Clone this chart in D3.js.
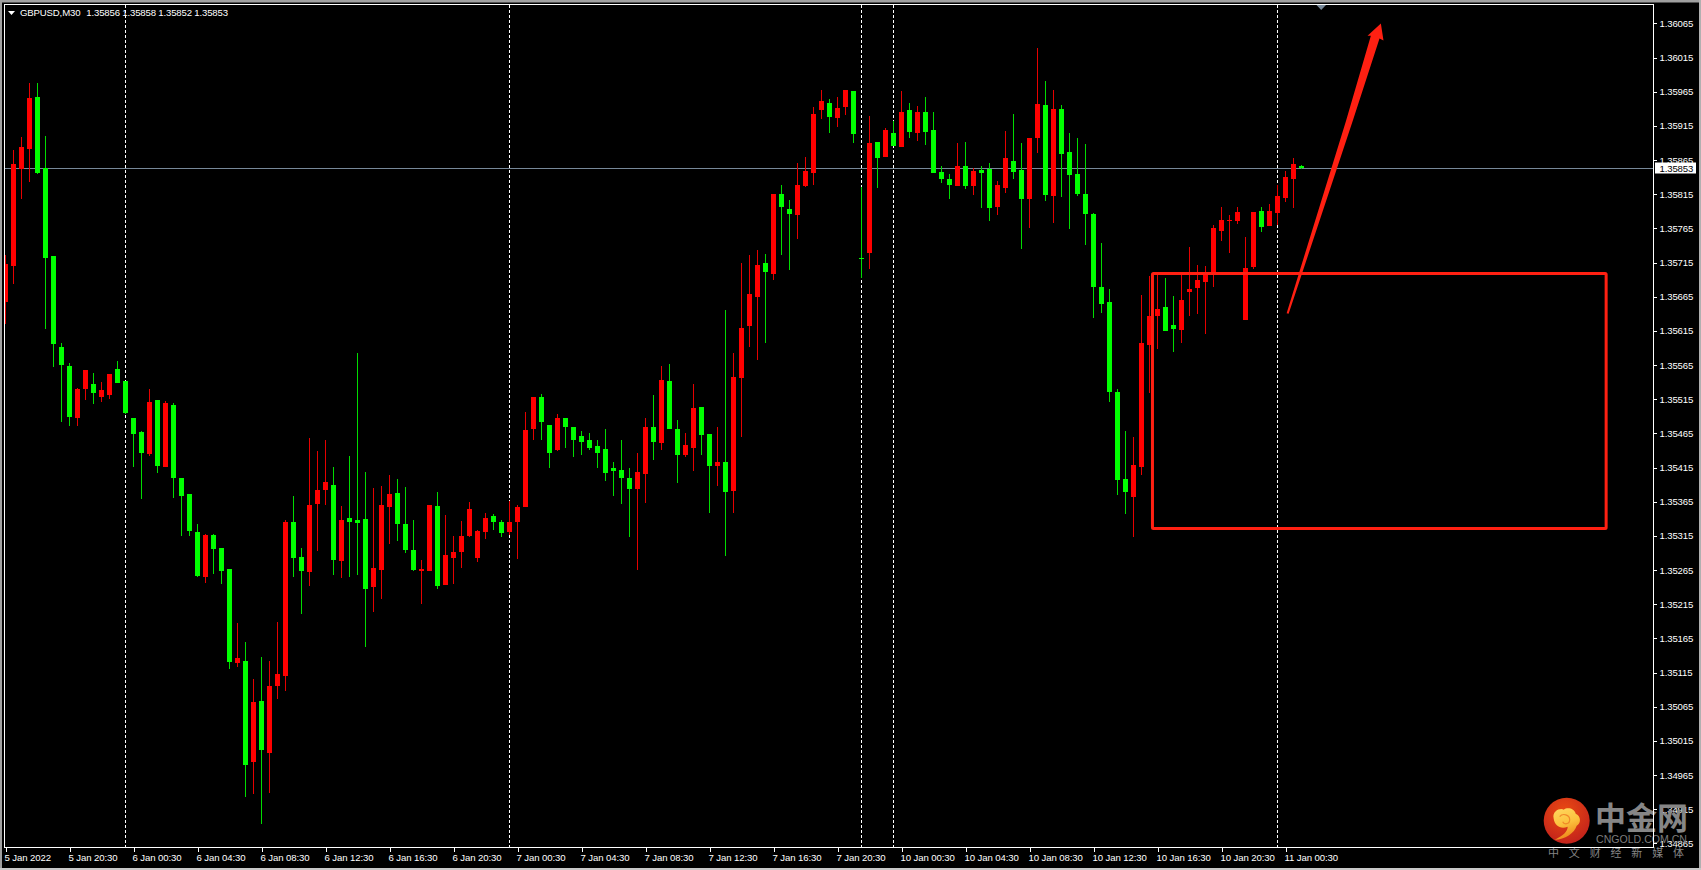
<!DOCTYPE html>
<html>
<head>
<meta charset="utf-8">
<script src="https://cdn.jsdelivr.net/npm/d3@7/dist/d3.min.js"></script>
<style>
html,body{margin:0;padding:0;background:#000;overflow:hidden}
svg{display:block}
text{font-family:"Liberation Sans",Arial,sans-serif}
</style>
</head>
<body>
<script>
const highs=[1.35726,1.35880,1.35899,1.35978,1.35978,1.35900,1.35724,1.35597,1.35568,1.35531,
1.35558,1.35553,1.35540,1.35552,1.35571,1.35541,1.35488,1.35469,1.35530,1.35514,
1.35513,1.35510,1.35400,1.35376,1.35333,1.35318,1.35318,1.35297,1.35267,1.35188,
1.35160,1.35106,1.35138,1.35132,1.35189,1.35338,1.35374,1.35297,1.35458,1.35439,
1.35455,1.35416,1.35359,1.35432,1.35583,1.35409,1.35385,1.35388,1.35404,1.35398,
1.35387,1.35338,1.35280,1.35360,1.35379,1.35346,1.35315,1.35337,1.35365,1.35324,
1.35348,1.35347,1.35338,1.35366,1.35360,1.35497,1.35519,1.35522,1.35478,1.35493,
1.35487,1.35474,1.35468,1.35465,1.35456,1.35471,1.35423,1.35456,1.35415,1.35437,
1.35487,1.35521,1.35563,1.35566,1.35484,1.35465,1.35537,1.35503,1.35464,1.35475,
1.35645,1.35582,1.35714,1.35726,1.35733,1.35727,1.35815,1.35828,1.35806,1.35860,
1.35869,1.35942,1.35967,1.35955,1.35957,1.35967,1.35966,1.35825,1.35929,1.35891,
1.35912,1.35922,1.35966,1.35948,1.35944,1.35958,1.35936,1.35856,1.35844,1.35890,
1.35891,1.35853,1.35857,1.35860,1.35834,1.35907,1.35932,1.35890,1.35897,1.36029,
1.35980,1.35967,1.35945,1.35904,1.35898,1.35888,1.35787,1.35743,1.35676,1.35530,
1.35468,1.35459,1.35667,1.35695,1.35697,1.35692,1.35666,1.35697,1.35738,1.35711,
1.35710,1.35770,1.35796,1.35784,1.35796,1.35752,1.35789,1.35796,1.35800,1.35828,
1.35849,1.35868,1.35858];
const lows=[1.35625,1.35683,1.35808,1.35833,1.35844,1.35618,1.35562,1.35481,1.35476,1.35476,
1.35514,1.35508,1.35511,1.35515,1.35539,1.35493,1.35416,1.35369,1.35432,1.35407,
1.35416,1.35371,1.35315,1.35315,1.35255,1.35246,1.35259,1.35245,1.35120,1.35123,
1.34933,1.34938,1.34894,1.34939,1.35076,1.35088,1.35255,1.35201,1.35242,1.35293,
1.35360,1.35258,1.35254,1.35255,1.35258,1.35153,1.35204,1.35223,1.35303,1.35308,
1.35290,1.35264,1.35215,1.35264,1.35237,1.35243,1.35245,1.35268,1.35313,1.35277,
1.35311,1.35323,1.35313,1.35316,1.35281,1.35358,1.35455,1.35456,1.35415,1.35439,
1.35443,1.35430,1.35434,1.35440,1.35414,1.35396,1.35374,1.35361,1.35313,1.35265,
1.35363,1.35426,1.35440,1.35471,1.35392,1.35431,1.35410,1.35434,1.35348,1.35388,
1.35285,1.35348,1.35459,1.35592,1.35573,1.35597,1.35690,1.35726,1.35704,1.35749,
1.35825,1.35828,1.35925,1.35904,1.35913,1.35931,1.35890,1.35692,1.35705,1.35824,
1.35869,1.35885,1.35884,1.35897,1.35893,1.35887,1.35846,1.35831,1.35808,1.35827,
1.35822,1.35814,1.35795,1.35776,1.35784,1.35817,1.35838,1.35735,1.35765,1.35875,
1.35805,1.35773,1.35811,1.35764,1.35812,1.35740,1.35634,1.35641,1.35511,1.35375,
1.35347,1.35313,1.35404,1.35524,1.35588,1.35615,1.35584,1.35597,1.35637,1.35639,
1.35610,1.35679,1.35746,1.35729,1.35771,1.35631,1.35705,1.35759,1.35768,1.35770,
1.35803,1.35795,1.35852];
const opens=[1.35657,1.35710,1.35852,1.35881,1.35957,1.35853,1.35724,1.35591,1.35563,1.35487,
1.35530,1.35537,1.35518,1.35521,1.35559,1.35541,1.35488,1.35467,1.35435,1.35514,
1.35416,1.35507,1.35400,1.35376,1.35321,1.35255,1.35316,1.35297,1.35267,1.35129,
1.35132,1.34984,1.35074,1.34997,1.35095,1.35110,1.35335,1.35284,1.35262,1.35362,
1.35382,1.35390,1.35278,1.35341,1.35338,1.35340,1.35240,1.35265,1.35357,1.35378,
1.35333,1.35295,1.35264,1.35264,1.35359,1.35243,1.35283,1.35292,1.35315,1.35283,
1.35320,1.35344,1.35336,1.35320,1.35336,1.35358,1.35471,1.35518,1.35478,1.35440,
1.35487,1.35474,1.35461,1.35455,1.35446,1.35442,1.35414,1.35411,1.35399,1.35383,
1.35405,1.35474,1.35451,1.35541,1.35471,1.35434,1.35443,1.35503,1.35464,1.35418,
1.35423,1.35380,1.35546,1.35622,1.35664,1.35714,1.35698,1.35815,1.35794,1.35784,
1.35827,1.35846,1.35938,1.35948,1.35926,1.35942,1.35966,1.35721,1.35729,1.35891,
1.35869,1.35904,1.35884,1.35938,1.35904,1.35936,1.35909,1.35847,1.35838,1.35827,
1.35857,1.35827,1.35850,1.35852,1.35796,1.35824,1.35863,1.35850,1.35808,1.35897,
1.35945,1.35812,1.35939,1.35877,1.35844,1.35815,1.35786,1.35679,1.35657,1.35525,
1.35398,1.35372,1.35416,1.35595,1.35637,1.35650,1.35623,1.35616,1.35672,1.35678,
1.35686,1.35697,1.35761,1.35776,1.35776,1.35631,1.35708,1.35790,1.35768,1.35787,
1.35809,1.35837,1.35856];
const closes=[1.35713,1.35859,1.35884,1.35956,1.35846,1.35721,1.35596,1.35565,1.35489,1.35530,
1.35558,1.35524,1.35528,1.35552,1.35539,1.35495,1.35464,1.35436,1.35511,1.35417,
1.35510,1.35400,1.35374,1.35322,1.35256,1.35316,1.35296,1.35264,1.35131,1.35136,
1.34980,1.35072,1.35002,1.35095,1.35113,1.35335,1.35283,1.35264,1.35360,1.35382,
1.35394,1.35280,1.35338,1.35335,1.35334,1.35237,1.35268,1.35360,1.35376,1.35333,
1.35295,1.35265,1.35267,1.35360,1.35242,1.35287,1.35292,1.35315,1.35354,1.35322,
1.35341,1.35336,1.35319,1.35336,1.35358,1.35470,1.35518,1.35481,1.35437,1.35487,
1.35475,1.35455,1.35453,1.35443,1.35436,1.35407,1.35410,1.35399,1.35383,1.35408,
1.35475,1.35453,1.35543,1.35471,1.35434,1.35448,1.35502,1.35462,1.35418,1.35423,
1.35379,1.35547,1.35619,1.35669,1.35712,1.35701,1.35815,1.35797,1.35786,1.35828,
1.35849,1.35932,1.35951,1.35928,1.35941,1.35967,1.35903,1.35720,1.35890,1.35868,
1.35909,1.35885,1.35936,1.35906,1.35936,1.35906,1.35846,1.35837,1.35828,1.35857,
1.35827,1.35849,1.35846,1.35795,1.35828,1.35868,1.35847,1.35808,1.35897,1.35947,
1.35814,1.35939,1.35874,1.35843,1.35815,1.35786,1.35679,1.35654,1.35525,1.35397,
1.35379,1.35419,1.35598,1.35637,1.35647,1.35615,1.35618,1.35660,1.35676,1.35689,
1.35699,1.35765,1.35777,1.35777,1.35789,1.35707,1.35789,1.35767,1.35790,1.35812,
1.35840,1.35859,1.35853];

const priceTicks=[1.36065,1.36015,1.35965,1.35915,1.35865,1.35815,1.35765,1.35715,1.35665,1.35615,1.35565,1.35515,1.35465,1.35415,1.35365,1.35315,1.35265,1.35215,1.35165,1.35115,1.35065,1.35015,1.34965,1.34915,1.34865];
const timeBars=[0,8,16,24,32,40,48,56,64,72,80,88,96,104,112,120,128,136,144,152,160];
const timeLabels=["5 Jan 2022","5 Jan 20:30","6 Jan 00:30","6 Jan 04:30","6 Jan 08:30","6 Jan 12:30","6 Jan 16:30","6 Jan 20:30","7 Jan 00:30","7 Jan 04:30","7 Jan 08:30","7 Jan 12:30","7 Jan 16:30","7 Jan 20:30","10 Jan 00:30","10 Jan 04:30","10 Jan 08:30","10 Jan 12:30","10 Jan 16:30","10 Jan 20:30","11 Jan 00:30"];
const separatorBars=[15,63,107,111,159];
const lastPrice=1.35853;
const headerName="GBPUSD,M30";
const headerValues=[1.35856,1.35858,1.35852,1.35853];
const boxBars=[143.37,200.08];
const boxPrices=[1.35699,1.35326];
const arrowBars=[160.14,167.58,170.67,170.25,171.92,172.25,171.75,168.42,160.39];
const arrowPrices=[1.35641,1.35923,1.36047,1.36047,1.36065,1.36040,1.36043,1.35923,1.35640];

const W=1701,H=870,L=5,R=1653,T=5,B=847;
const svg=d3.select("body").append("svg").attr("width",W).attr("height",H).attr("viewBox",`0 0 ${W} ${H}`);
svg.append("rect").attr("width",W).attr("height",H).attr("fill","#000");

const x=d3.scaleLinear().domain([0,162]).range([5.5,1301.5]);
const y=d3.scaleLinear().domain([1.34865,1.36065]).range([843.4,23.4]);

const defs=svg.append("defs");
defs.append("clipPath").attr("id","plot").append("rect").attr("x",L).attr("y",T).attr("width",R-L).attr("height",B-T);
const rg=defs.append("radialGradient").attr("id","logoRed").attr("cx","45%").attr("cy","30%").attr("r","75%");
rg.append("stop").attr("offset","0%").attr("stop-color","#ea4a12");
rg.append("stop").attr("offset","100%").attr("stop-color","#c0201c");
const yg=defs.append("linearGradient").attr("id","logoYellow").attr("x1","0").attr("y1","0").attr("x2","0.3").attr("y2","1");
yg.append("stop").attr("offset","0%").attr("stop-color","#ffd860");
yg.append("stop").attr("offset","55%").attr("stop-color","#fcc23e");
yg.append("stop").attr("offset","100%").attr("stop-color","#ee8a1c");

// window chrome
svg.append("rect").attr("width",W).attr("height",2.5).attr("fill","#a0a0a0");
svg.append("rect").attr("width",2).attr("height",H).attr("fill","#a0a0a0");
svg.append("rect").attr("x",1699).attr("width",2).attr("height",H).attr("fill","#b0b0b0");
svg.append("rect").attr("y",868).attr("width",W).attr("height",2).attr("fill","#c8c8c8");

const plot=svg.append("g").attr("clip-path","url(#plot)").attr("shape-rendering","crispEdges");

// period separators
plot.selectAll("line.sep").data(separatorBars).join("line").attr("class","sep")
  .attr("x1",d=>x(d)).attr("x2",d=>x(d)).attr("y1",T).attr("y2",B)
  .attr("stroke","#fff").attr("stroke-dasharray","3,2");

// bid line
plot.append("line").attr("x1",L).attr("x2",R).attr("y1",Math.floor(y(lastPrice))+0.5).attr("y2",Math.floor(y(lastPrice))+0.5)
  .attr("stroke","#778899");

// candles
const idx=d3.range(closes.length);
const up=i=>closes[i]>=opens[i];
plot.selectAll("line.wick").data(idx).join("line").attr("class","wick")
  .attr("x1",i=>x(i)).attr("x2",i=>x(i))
  .attr("y1",i=>Math.round(y(highs[i]))).attr("y2",i=>Math.round(y(lows[i])))
  .attr("stroke",i=>up(i)?"#e60000":"#00dc00");
plot.selectAll("rect.body").data(idx).join("rect").attr("class","body")
  .attr("x",i=>x(i)-2.5).attr("width",5)
  .attr("y",i=>Math.round(y(Math.max(opens[i],closes[i]))))
  .attr("height",i=>Math.max(1,Math.round(y(Math.min(opens[i],closes[i])))-Math.round(y(Math.max(opens[i],closes[i])))))
  .attr("fill",i=>up(i)?"#ff0000":"#00ff00");

// annotations
svg.append("rect")
  .attr("x",x(boxBars[0])).attr("y",y(boxPrices[0]))
  .attr("width",x(boxBars[1])-x(boxBars[0])).attr("height",y(boxPrices[1])-y(boxPrices[0]))
  .attr("rx",1).attr("fill","none").attr("stroke","#ff2012").attr("stroke-width",3);
svg.append("polygon")
  .attr("points",arrowBars.map((b,i)=>x(b)+","+y(arrowPrices[i])).join(" "))
  .attr("fill","#ff2012");

// marker triangle at the top
svg.append("path").attr("d","M1316.5,5H1326L1321.2,10Z").attr("fill","#778899");

// axes
const yAxis=svg.append("g").attr("transform",`translate(${R+0.5},0)`)
  .call(d3.axisRight(y).tickValues(priceTicks).tickSize(3).tickPadding(3).tickFormat(d3.format(".5f")));
yAxis.select(".domain").remove();
yAxis.selectAll("line").attr("stroke","#fff").attr("shape-rendering","crispEdges");
yAxis.selectAll("text").attr("fill","#fff").attr("font-family","Liberation Sans").attr("font-size",9.6).attr("letter-spacing","-0.15");

const xAxis=svg.append("g").attr("transform",`translate(0,${B+0.5})`)
  .call(d3.axisBottom(x).tickValues(timeBars).tickSize(4).tickPadding(3).tickFormat((d,i)=>timeLabels[i]));
xAxis.select(".domain").remove();
xAxis.selectAll("line").attr("stroke","#fff").attr("shape-rendering","crispEdges");
xAxis.selectAll("text").attr("fill","#fff").attr("text-anchor","start").attr("dx",-1.5)
  .attr("font-family","Liberation Sans").attr("font-size",9.6).attr("letter-spacing","-0.1");

// current price tag
svg.append("rect").attr("x",1655).attr("y",Math.round(y(lastPrice))-5.5).attr("width",41).attr("height",11).attr("fill","#fff");
svg.append("text").attr("x",1659.5).attr("y",y(lastPrice)).attr("dy","0.34em")
  .attr("fill","#000").attr("font-size",9.6).attr("letter-spacing","-0.15").text(d3.format(".5f")(lastPrice));

// header
svg.append("path").attr("d","M8,11H15L11.5,15Z").attr("fill","#fff");
svg.append("text").attr("x",20).attr("y",16).attr("fill","#fff").attr("font-size",9.6).attr("letter-spacing","-0.15").text(headerName);
svg.selectAll("text.hv").data(headerValues).join("text").attr("class","hv")
  .attr("x",(d,i)=>86.3+36*i).attr("y",16).attr("fill","#fff").attr("font-size",9.6).attr("letter-spacing","-0.15")
  .text(d=>d3.format(".5f")(d));

// watermark
const wm=svg.append("g");
wm.append("circle").attr("cx",1566.7).attr("cy",820.7).attr("r",23).attr("fill","url(#logoRed)");
const sw=wm.append("g").attr("transform","translate(1566.7,820.7)");
sw.append("path").attr("d","M-13,-2C-15,-10 -6,-13 -3,-11C1,-14 8,-12 9,-7C14,-5 15,2 10,5C8,12 -2,19 -12,19C-4,15 1,11 1,6C-6,9 -12,5 -13,-2Z").attr("fill","url(#logoYellow)");
sw.append("path").attr("d","M-7,-4C-4,-8 3,-6 3,-1C3,4 -3,4 -4,1").attr("fill","none").attr("stroke","#f08a2a").attr("stroke-width",1.2);
wm.append("text").attr("x",1595).attr("y",829).attr("font-size",31).attr("font-weight",700)
  .style("font-family","'Noto Sans CJK SC'").attr("fill","#868686").attr("textLength",93).attr("lengthAdjust","spacing").text("中金网");
wm.append("text").attr("x",1596).attr("y",842.5).attr("font-size",11.5).attr("fill","#7c7c7c")
  .attr("textLength",91).attr("lengthAdjust","spacingAndGlyphs").text("CNGOLD.COM.CN");
wm.append("text").attr("x",1548).attr("y",856.5).attr("font-size",11)
  .style("font-family","'Noto Sans CJK SC'").attr("fill","#858585").attr("textLength",136).attr("lengthAdjust","spacing").text("中文财经新媒体");

// chart frame
svg.append("rect").attr("x",L-0.5).attr("y",T-0.5).attr("width",R-L+1).attr("height",B-T+1)
  .attr("fill","none").attr("stroke","#fff").attr("shape-rendering","crispEdges");
</script>
</body>
</html>
